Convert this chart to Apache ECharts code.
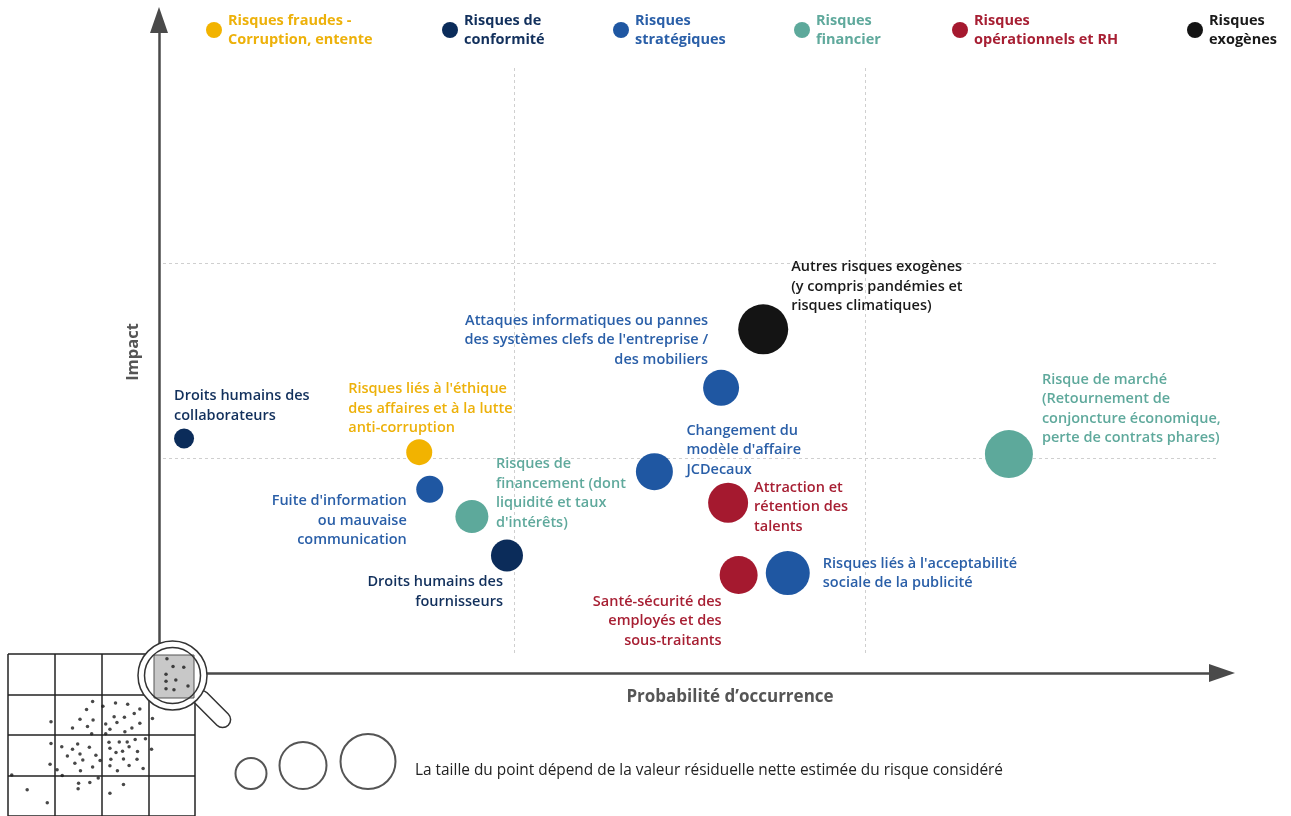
<!DOCTYPE html>
<html><head><meta charset="utf-8">
<script src="https://cdn.jsdelivr.net/npm/echarts@6/dist/echarts.min.js"></script>
<style>html,body{margin:0;padding:0;background:#fff}#c{width:1291px;height:816px}</style>
</head><body><div id="c"></div>
<script>
// ---------- DATA ----------
const categories = ['Risques fraudes - Corruption, entente', 'Risques de conformité', 'Risques stratégiques', 'Risques financier', 'Risques opérationnels et RH', 'Risques exogènes'];
const legendLines = [['Risques fraudes -', 'Corruption, entente'], ['Risques de', 'conformité'], ['Risques', 'stratégiques'], ['Risques', 'financier'], ['Risques', 'opérationnels et RH'], ['Risques', 'exogènes']];
const riskLabels = [
  'Droits humains des\ncollaborateurs',
  'Risques liés à l\'éthique\ndes affaires et à la lutte\nanti-corruption',
  'Fuite d\'information\nou mauvaise\ncommunication',
  'Risques de\nfinancement (dont\nliquidité et taux\nd\'intérêts)',
  'Droits humains des\nfournisseurs',
  'Changement du\nmodèle d\'affaire\nJCDecaux',
  'Attaques informatiques ou pannes\ndes systèmes clefs de l\'entreprise /\ndes mobiliers',
  'Autres risques exogènes\n(y compris pandémies et\nrisques climatiques)',
  'Attraction et\nrétention des\ntalents',
  'Santé-sécurité des\nemployés et des\nsous-traitants',
  'Risques liés à l\'acceptabilité\nsociale de la publicité',
  'Risque de marché\n(Retournement de\nconjoncture économique,\nperte de contrats phares)'
];
const riskCategory = [1, 0, 2, 3, 1, 2, 2, 5, 4, 4, 2, 3];
const probability  = [0.06, 0.73, 0.76, 0.88, 0.98, 1.40, 1.59, 1.71, 1.61, 1.64, 1.78, 2.41];
const impact       = [1.10, 1.03, 0.84, 0.70, 0.50, 0.93, 1.36, 1.66, 0.77, 0.40, 0.41, 1.02];
const residualValue = [20, 26, 27, 33, 32, 37, 36, 50, 40, 38, 44, 48];
const axisTicks = [0, 1, 2, 3];
const sizeLegendValues = [31, 47, 55];
const iconDotsX = [1.81,1.68,2.03,2.30,2.56,2.82,2.70,1.54,1.82,2.27,2.49,2.33,0.92,1.38,1.70,2.09,2.18,2.65,2.50,2.82,3.09,1.79,2.09,0.92,1.15,1.49,1.38,1.74,1.54,1.27,1.88,1.97,1.60,1.43,1.81,1.55,2.16,2.38,2.55,2.72,2.94,2.18,2.45,2.59,2.77,2.31,2.20,2.47,2.76,3.07,0.90,1.05,1.16,0.08,2.18,2.34,2.59,2.89,1.93,1.51,1.50,1.75,2.47,2.18,0.41,0.84,3.40,3.53,3.76,3.38,3.38,3.59,3.85,3.38,3.55];
const iconDotsY = [1.17,1.37,1.29,1.21,1.24,1.36,1.47,1.61,1.63,1.55,1.56,1.69,1.67,1.83,1.79,1.73,1.86,1.83,1.92,1.71,1.59,1.97,1.97,2.21,2.29,2.22,2.35,2.30,2.47,2.52,2.50,2.63,2.62,2.70,2.79,2.88,2.18,2.17,2.17,2.11,2.09,2.33,2.40,2.29,2.41,2.43,2.60,2.59,2.60,2.35,2.72,2.86,3.00,2.99,2.76,2.88,2.75,2.83,3.06,3.19,3.33,3.17,3.22,3.44,3.35,3.67,0.12,0.31,0.33,0.50,0.67,0.64,0.79,0.86,0.88];

// ---------- STYLE / LAYOUT ----------
const FONT = '"Open Sans"';
const colors = ['#F2B300', '#0B2C5A', '#1F57A2', '#5DA99B', '#A5192F', '#141414'];
const labelColors = ['#EDB10A', '#12305C', '#2A5FA8', '#5FA99C', '#A71F33', '#1A1A1A'];
const legendLeft = [201, 437, 608, 789, 947, 1182];
// label anchor offset from point centre (px) and alignment
const labelOffset = [[-10,-52,'left'],[-71,-73,'left'],[-23,2,'right'],[24,-62,'left'],[-4,17,'right'],[32,-51,'left'],[-13,-77,'right'],[28,-72,'left'],[26,-25,'left'],[-17,17,'right'],[35,-19,'left'],[33,-84,'left']];

const series = categories.map((cat, ci) => {
  const data = [];
  riskCategory.forEach((c, i) => {
    if (c !== ci) return;
    const s = residualValue[i];
    const o = labelOffset[i];
    data.push({
      name: riskLabels[i],
      value: [probability[i], impact[i], s],
      label: {
        show: true,
        formatter: riskLabels[i],
        position: [o[0] + s / 2, o[1] + s / 2],
        align: o[2],
        verticalAlign: 'top',
        color: labelColors[ci],
        fontFamily: FONT, fontSize: 14.5, fontWeight: 600, lineHeight: 19.5
      }
    });
  });
  return {
    name: cat, type: 'scatter', xAxisIndex: 0, yAxisIndex: 0,
    data, symbolSize: v => v[2], itemStyle: { color: colors[ci], opacity: 1 },
    emphasis: { disabled: true }
  };
});

series.push({
  name: 'icon', type: 'scatter', xAxisIndex: 2, yAxisIndex: 2, silent: true,
  data: iconDotsX.map((x, i) => [x, iconDotsY[i]]),
  symbolSize: 3.5, itemStyle: { color: '#1a1a1a' }, z: 5
});

const legends = categories.map((cat, i) => ({
  data: [cat], left: legendLeft[i], top: 6, icon: 'circle', itemWidth: 16, itemHeight: 16,
  selectedMode: false, formatter: () => legendLines[i].join('\n'),
  textStyle: { color: labelColors[i], fontFamily: FONT, fontWeight: 'bold', fontSize: 14.5, lineHeight: 19, padding: [0, 0, 0, 1] }
}));

const hiddenAxis = { show: true, axisLine: { show: false }, axisTick: { show: false }, axisLabel: { show: false } };
const dashed = { show: true, showMinLine: false, showMaxLine: false, lineStyle: { color: '#cfcfcf', type: [3, 3], width: 1 } };

const sizeCircleX = [251, 303, 368];
const sizeBottom = 789;

const option = {
  backgroundColor: '#fff',
  animation: false,
  legend: legends,
  grid: [
    { left: 163, top: 68, width: 1053, height: 585 },
    { left: 159, top: 20, right: 69, bottom: 143 },
    { left: 8, top: 654, width: 187, height: 168 }
  ],
  xAxis: [
    Object.assign({ type: 'value', gridIndex: 0, min: axisTicks[0], max: axisTicks[axisTicks.length - 1], interval: 1, splitLine: dashed }, hiddenAxis),
    { type: 'value', gridIndex: 1, min: 0, max: 1, axisLine: { show: true, onZero: false, symbol: ['none', 'triangle'], symbolSize: [18, 26], lineStyle: { color: '#4a4a4a', width: 2.5 } }, axisTick: { show: false }, axisLabel: { show: false }, splitLine: { show: false } },
    { type: 'value', gridIndex: 2, min: 0, max: 4, interval: 1, axisLine: { show: false }, axisTick: { show: false }, axisLabel: { show: false }, splitLine: { show: true, lineStyle: { color: '#222', width: 1.5 } } }
  ],
  yAxis: [
    Object.assign({ type: 'value', gridIndex: 0, min: axisTicks[0], max: axisTicks[axisTicks.length - 1], interval: 1, splitLine: dashed }, hiddenAxis),
    { type: 'value', gridIndex: 1, min: 0, max: 1, axisLine: { show: true, onZero: false, symbol: ['none', 'triangle'], symbolSize: [18, 26], lineStyle: { color: '#4a4a4a', width: 2.5 } }, axisTick: { show: false }, axisLabel: { show: false }, splitLine: { show: false } },
    { type: 'value', gridIndex: 2, min: 0, max: 4, interval: 1, inverse: true, axisLine: { show: false }, axisTick: { show: false }, axisLabel: { show: false }, splitLine: { show: true, lineStyle: { color: '#222', width: 1.5 } } }
  ],
  graphic: { elements: [
    { type: 'rect', z: 3, position: [212, 709], rotation: -Math.PI / 4, shape: { x: -23, y: -8, width: 46, height: 16, r: 8 }, style: { fill: '#fff', stroke: '#333', lineWidth: 1.5 } },
    { type: 'circle', z: 3, shape: { cx: 172.5, cy: 675.5, r: 34.5 }, style: { fill: '#fff', stroke: '#333', lineWidth: 1.5 } },
    { type: 'rect', z: 3, shape: { x: 154, y: 655, width: 40, height: 43 }, style: { fill: '#c8c8c8', stroke: '#555', lineWidth: 1 } },
    { type: 'circle', z: 3, shape: { cx: 172.5, cy: 675.5, r: 28 }, style: { fill: null, stroke: '#333', lineWidth: 1.5 } },
    { type: 'text', z: 3, style: { text: 'Probabilité d\u2019occurrence', x: 730, y: 697, align: 'center', verticalAlign: 'middle', fill: '#555', font: 'bold 17px ' + FONT } },
    { type: 'text', z: 3, x: 133, y: 352, rotation: Math.PI / 2, style: { text: 'Impact', x: 0, y: 0, align: 'center', verticalAlign: 'middle', fill: '#555', font: 'bold 16.5px ' + FONT } },
    ...sizeLegendValues.map((d, i) => ({ type: 'circle', z: 3, shape: { cx: sizeCircleX[i], cy: sizeBottom - d / 2, r: d / 2 }, style: { fill: null, stroke: '#555', lineWidth: 2 } })),
    { type: 'text', z: 3, style: { text: 'La taille du point dépend de la valeur résiduelle nette estimée du risque considéré', x: 415, y: 771, align: 'left', verticalAlign: 'middle', fill: '#222', font: '15.4px ' + FONT } }
  ] },
  series
};

const chart = echarts.init(document.getElementById('c'), null, { renderer: 'canvas' });
chart.setOption(option);
</script>
</body></html>
